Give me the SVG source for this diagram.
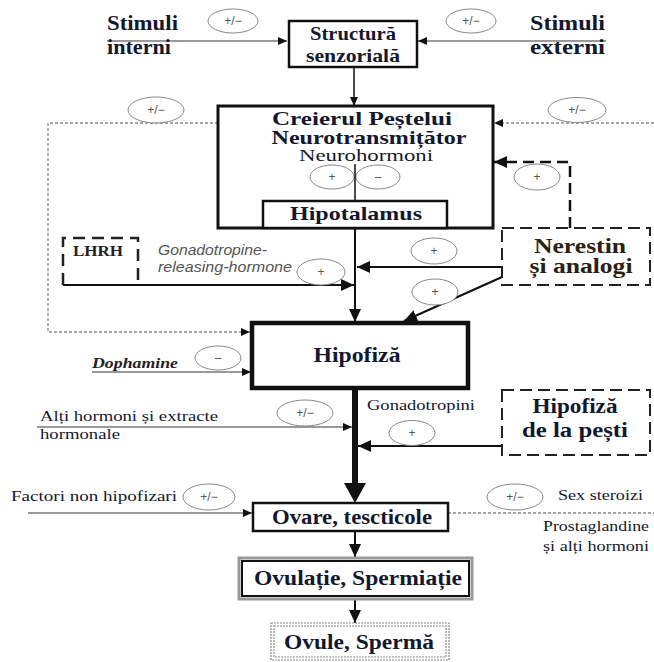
<svg xmlns="http://www.w3.org/2000/svg" width="654" height="662" viewBox="0 0 654 662">
<defs>
<style>
.b{font-family:"Liberation Serif",serif;font-weight:bold;fill:#14182e}
.r{font-family:"Liberation Serif",serif;fill:#14182e}
.it{font-family:"Liberation Sans",sans-serif;font-style:italic;fill:#555}
.box{fill:#fff;stroke:#111}
.ell{fill:#fff;stroke:#888;stroke-width:1}
.et{font-family:"Liberation Sans",sans-serif;fill:#555;font-size:12px;text-anchor:middle}
.thin{fill:none;stroke:#777;stroke-width:1.5}
.blk{fill:none;stroke:#111;stroke-width:2}
.dot{fill:none;stroke:#888;stroke-width:1.3;stroke-dasharray:3 2}
.dsh{fill:none;stroke:#111;stroke-width:2.2;stroke-dasharray:11 6}
</style>
<marker id="a" markerUnits="userSpaceOnUse" markerWidth="9" markerHeight="8" refX="9" refY="4" orient="auto"><path d="M0,0 L9,4 L0,8 z" fill="#111"/></marker>
<marker id="m" markerUnits="userSpaceOnUse" markerWidth="13" markerHeight="12" refX="13" refY="6" orient="auto"><path d="M0,0 L13,6 L0,12 z" fill="#111"/></marker>
</defs>
<rect width="654" height="662" fill="#fff"/>

<g id="connectors">
<line class="thin" x1="107" y1="41" x2="287" y2="41" marker-end="url(#a)"/>
<line class="thin" x1="606" y1="41" x2="418" y2="41" marker-end="url(#a)"/>
<line class="blk" style="stroke-width:1.5" x1="354" y1="67" x2="354" y2="106" marker-end="url(#a)"/>
<line class="blk" style="stroke-width:1.5" x1="355" y1="164" x2="355" y2="201" marker-end="url(#a)"/>
<polyline class="dot" points="218,123 48,123 48,332 250,332" marker-end="url(#a)"/>
<line class="dot" x1="654" y1="123" x2="494" y2="123" marker-end="url(#a)"/>
<polyline class="dsh" style="stroke-width:2.5" points="570,228 570,162 494,162" marker-end="url(#m)"/>
<line class="blk" x1="355" y1="228" x2="355" y2="322" marker-end="url(#m)"/>
<line class="blk" x1="502" y1="267" x2="357" y2="267" marker-end="url(#m)"/>
<line class="blk" x1="502" y1="277" x2="404" y2="321" marker-end="url(#m)"/>
<line class="blk" x1="63" y1="285" x2="354" y2="285" marker-end="url(#m)"/>
<line class="thin" x1="92" y1="372" x2="251" y2="372" marker-end="url(#a)"/>
<line class="blk" style="stroke-width:6" x1="355" y1="388" x2="355" y2="490"/>
<path d="M344,483 L366,483 L355,503 z" fill="#111"/>
<line class="thin" x1="37" y1="427" x2="352" y2="427" marker-end="url(#a)"/>
<line class="blk" x1="502" y1="446" x2="358" y2="446" marker-end="url(#m)"/>
<line class="thin" x1="28" y1="513" x2="252" y2="513" marker-end="url(#a)"/>
<line class="dot" x1="448" y1="513" x2="654" y2="513"/>
<line class="blk" x1="355" y1="531" x2="355" y2="557" marker-end="url(#m)"/>
<line class="blk" x1="355" y1="600" x2="355" y2="623" marker-end="url(#m)"/>
</g>

<g id="stimuli-interni">
<text class="b" x="107" y="30" font-size="20" textLength="71" lengthAdjust="spacingAndGlyphs">Stimuli</text>
<text class="b" x="107" y="54" font-size="20" textLength="64" lengthAdjust="spacingAndGlyphs">interni</text>
<ellipse class="ell" cx="233" cy="21" rx="25" ry="12"/><text class="et" x="233" y="25">+/−</text>
</g>
<g id="stimuli-externi">
<text class="b" x="530" y="30" font-size="20" textLength="75" lengthAdjust="spacingAndGlyphs">Stimuli</text>
<text class="b" x="530" y="54" font-size="20" textLength="75" lengthAdjust="spacingAndGlyphs">externi</text>
<ellipse class="ell" cx="471" cy="21" rx="25" ry="12"/><text class="et" x="471" y="25">+/−</text>
</g>
<g id="structura">
<rect class="box" x="289" y="21" width="128" height="46" stroke-width="2.5"/>
<text class="b" x="353" y="40" font-size="19" text-anchor="middle" textLength="86" lengthAdjust="spacingAndGlyphs">Structură</text>
<text class="b" x="353" y="62" font-size="19" text-anchor="middle" textLength="94" lengthAdjust="spacingAndGlyphs">senzorială</text>
</g>
<g id="creier">
<rect class="box" x="218" y="106" width="275" height="122" stroke-width="3"/>
<text class="b" x="362" y="125" font-size="19" text-anchor="middle" textLength="180" lengthAdjust="spacingAndGlyphs">Creierul Peștelui</text>
<text class="b" x="369" y="144" font-size="19" text-anchor="middle" textLength="195" lengthAdjust="spacingAndGlyphs">Neurotransmițător</text>
<text class="r" x="366" y="161" font-size="16" text-anchor="middle" textLength="134" lengthAdjust="spacingAndGlyphs">Neurohormoni</text>
<ellipse class="ell" cx="332" cy="177" rx="22" ry="12"/><text class="et" x="332" y="181" font-size="13">+</text>
<ellipse class="ell" cx="378" cy="177" rx="22" ry="12"/><text class="et" x="378" y="181" font-size="13">–</text>
<line x1="355" y1="164" x2="355" y2="200" stroke="#111" stroke-width="1.5"/>
</g>
<g id="hipotalamus">
<rect class="box" x="263" y="201" width="184" height="27" stroke-width="2.5"/>
<text class="b" x="356" y="220" font-size="19" text-anchor="middle" textLength="132" lengthAdjust="spacingAndGlyphs">Hipotalamus</text>
</g>
<g id="fb-left"><ellipse class="ell" cx="156" cy="110" rx="28" ry="13"/><text class="et" x="156" y="114">+/−</text></g>
<g id="fb-right"><ellipse class="ell" cx="577" cy="110" rx="29" ry="12.5"/><text class="et" x="577" y="114">+/−</text></g>
<g id="fb-nerestin"><ellipse class="ell" cx="537" cy="177" rx="23" ry="13"/><text class="et" x="537" y="181" font-size="13">+</text></g>
<g id="nerestin">
<rect x="502" y="228" width="148" height="57" fill="#fff" stroke="#222" stroke-width="2" stroke-dasharray="12 6"/>
<text class="b" x="580" y="253" font-size="20" text-anchor="middle" textLength="92" lengthAdjust="spacingAndGlyphs" style="fill:#2a2110">Nerestin</text>
<text class="b" x="581" y="273" font-size="20" text-anchor="middle" textLength="103" lengthAdjust="spacingAndGlyphs" style="fill:#2a2110">și analogi</text>
<ellipse class="ell" cx="434" cy="251" rx="23" ry="13"/><text class="et" x="434" y="255" font-size="13">+</text>
<ellipse class="ell" cx="435" cy="292" rx="23" ry="13"/><text class="et" x="435" y="296" font-size="13">+</text>
</g>
<g id="lhrh">
<path d="M63,285 L63,238 L138,238 L138,285" fill="none" stroke="#222" stroke-width="2.5" stroke-dasharray="12 7"/>
<text class="b" x="98" y="256" font-size="14" text-anchor="middle" textLength="50" lengthAdjust="spacingAndGlyphs" style="fill:#222">LHRH</text>
<text class="it" x="158" y="255" font-size="14" textLength="109" lengthAdjust="spacingAndGlyphs">Gonadotropine-</text>
<text class="it" x="158" y="272" font-size="14" textLength="134" lengthAdjust="spacingAndGlyphs">releasing-hormone</text>
<ellipse class="ell" cx="321" cy="272" rx="24" ry="13"/><text class="et" x="321" y="276" font-size="13">+</text>
</g>
<g id="hipofiza">
<rect class="box" x="252" y="323" width="216" height="65" stroke-width="4.5"/>
<text class="b" x="357" y="362" font-size="21" text-anchor="middle" textLength="87" lengthAdjust="spacingAndGlyphs">Hipofiză</text>
</g>
<g id="dophamine">
<text class="b" x="92" y="368" font-size="15" font-style="italic" textLength="86" lengthAdjust="spacingAndGlyphs" style="fill:#222">Dophamine</text>
<ellipse class="ell" cx="218" cy="358" rx="23" ry="12"/><text class="et" x="218" y="362" font-size="13">–</text>
</g>
<g id="alti-hormoni">
<text class="r" x="40" y="421" font-size="15" textLength="178" lengthAdjust="spacingAndGlyphs">Alți hormoni și extracte</text>
<text class="r" x="40" y="439" font-size="15" textLength="80" lengthAdjust="spacingAndGlyphs">hormonale</text>
<ellipse class="ell" cx="305" cy="413" rx="28" ry="13"/><text class="et" x="305" y="417">+/−</text>
</g>
<g id="gonadotropini">
<text class="r" x="367" y="410" font-size="14" textLength="108" lengthAdjust="spacingAndGlyphs">Gonadotropini</text>
<ellipse class="ell" cx="412" cy="433" rx="23" ry="12.5"/><text class="et" x="412" y="437" font-size="13">+</text>
</g>
<g id="hipofiza-pesti">
<rect x="502" y="390" width="148" height="65" fill="#fff" stroke="#222" stroke-width="2" stroke-dasharray="12 6"/>
<text class="b" x="575" y="413" font-size="20" text-anchor="middle" textLength="85" lengthAdjust="spacingAndGlyphs">Hipofiză</text>
<text class="b" x="575" y="437" font-size="20" text-anchor="middle" textLength="106" lengthAdjust="spacingAndGlyphs">de la pești</text>
</g>
<g id="factori">
<text class="r" x="11" y="501" font-size="14" textLength="166" lengthAdjust="spacingAndGlyphs">Factori non hipofizari</text>
<ellipse class="ell" cx="209" cy="497" rx="26" ry="13"/><text class="et" x="209" y="501">+/−</text>
</g>
<g id="ovare">
<rect class="box" x="253" y="503" width="195" height="28" stroke-width="2.5"/>
<text class="b" x="352" y="524" font-size="20" text-anchor="middle" textLength="160" lengthAdjust="spacingAndGlyphs">Ovare, tescticole</text>
</g>
<g id="sex-steroizi">
<ellipse class="ell" cx="515" cy="497" rx="28" ry="13"/><text class="et" x="515" y="501">+/−</text>
<text class="r" x="558" y="500" font-size="14" textLength="85" lengthAdjust="spacingAndGlyphs">Sex steroizi</text>
<text class="r" x="543" y="531" font-size="14" textLength="106" lengthAdjust="spacingAndGlyphs">Prostaglandine</text>
<text class="r" x="543" y="551" font-size="14" textLength="106" lengthAdjust="spacingAndGlyphs">și alți hormoni</text>
</g>
<g id="ovulatie">
<rect x="239" y="558" width="233" height="41" fill="#fff" stroke="#999" stroke-width="3"/>
<rect x="242" y="561" width="227" height="35" fill="none" stroke="#111" stroke-width="2"/>
<text class="b" x="358" y="585" font-size="20" text-anchor="middle" textLength="208" lengthAdjust="spacingAndGlyphs">Ovulație, Spermiație</text>
</g>
<g id="ovule">
<rect x="271" y="623" width="178" height="37" fill="#fff" stroke="#888" stroke-width="1.2" stroke-dasharray="2 1"/>
<rect x="274" y="626" width="172" height="31" fill="none" stroke="#888" stroke-width="1.2" stroke-dasharray="2 1"/>
<text class="b" x="359" y="649" font-size="20" text-anchor="middle" textLength="150" lengthAdjust="spacingAndGlyphs">Ovule, Spermă</text>
</g>
</svg>
